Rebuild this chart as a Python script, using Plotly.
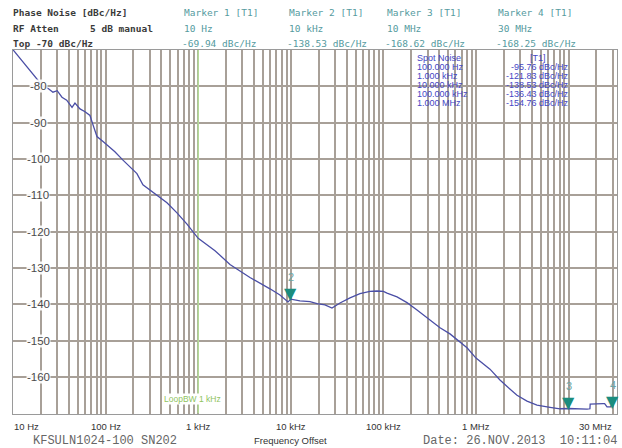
import numpy as np
import plotly.graph_objects as go

W, H = 622, 448

# ---- data ----
freq_hz = [10, 11.9, 15.3, 18, 21.1, 24, 27.0, 30, 33.8, 38, 43.4, 46.7, 52.9, 60, 67.8,
           73.1, 80.7, 93.8, 100, 126, 154, 183, 218, 253, 302, 387, 460, 590, 757, 1000,
           1518, 2203, 3622, 5956, 7636, 9330, 10000, 12560, 16110, 19180, 23390, 27850,
           33980, 43570, 55870, 71630, 85270, 100000, 109400, 140300, 179900, 230700,
           295800, 408500, 523800, 671600, 799600, 1e6, 1.415e6, 1.815e6, 2.327e6,
           2.772e6, 3.555e6, 4.558e6, 6.299e6, 8.077e6, 1e7, 1.328e7, 1.581e7, 1.70e7,
           1.71e7, 2.354e7, 2.45e7, 2.60e7, 2.85e7, 2.92e7, 3e7]
noise_dbc = [-69.94, -72.3, -75.5, -78.0, -80.0, -80.6, -81.6, -81.2, -83.0, -83.8, -85.8,
             -84.6, -86.2, -87.0, -88.0, -90.6, -93.8, -95.2, -95.76, -98.0, -100.3, -102.2,
             -104.0, -107.1, -108.5, -110.4, -112.0, -114.8, -117.9, -121.83, -125.2, -129.0,
             -132.6, -135.7, -137.4, -139.3, -138.53, -139.0, -139.2, -139.8, -140.1, -141.0,
             -139.6, -138.2, -137.0, -136.4, -136.3, -136.43, -136.9, -137.9, -139.5, -141.5,
             -143.6, -146.4, -148.1, -150.4, -151.9, -154.76, -157.8, -160.8, -163.3, -165.0,
             -166.6, -167.7, -168.3, -168.7, -168.62, -168.8, -168.8, -168.7, -167.4, -167.3,
             -167.3, -168.2, -168.2, -167.4, -167.4]

marker_names = ["Marker 1 [T1]", "Marker 2 [T1]", "Marker 3 [T1]", "Marker 4 [T1]"]
marker_freq = [10, 1e4, 1e7, 3e7]
marker_freq_txt = ["10 Hz", "10 kHz", "10 MHz", "30 MHz"]
marker_val = [-69.94, -138.53, -168.62, -168.25]

spot_freq_txt = ["100.000 Hz", "1.000 kHz", "10.000 kHz", "100.000 kHz", "1.000 MHz"]
spot_val = [-95.76, -121.83, -138.53, -136.43, -154.76]

y_ticks = [-80, -90, -100, -110, -120, -130, -140, -150, -160]
x_tick_vals = [10, 100, 1e3, 1e4, 1e5, 1e6, 3e7]
x_tick_txt = ["10 Hz", "100 Hz", "1 kHz", "10 kHz", "100 kHz", "1 MHz", "30 MHz"]
loop_bw_hz = 1000

# grid positions (1..9 per decade)
grid_x = [m * 10 ** d for d in range(1, 8) for m in range(1, 10) if m * 10 ** d <= 3e7]

# ---- geometry ----
L, R, T, B = 13, 617, 50, 413.5
XMIN = 1.0
XMAX = 1.0 + (R - L) / 92.6

def px(x):
    return x / W

def py(y):
    return 1 - y / H

fig = go.Figure()

fig.add_trace(go.Scatter(x=[loop_bw_hz, loop_bw_hz], y=[-170, -70], mode="lines",
                         line=dict(color="#b4da98", width=1.6), hoverinfo="skip",
                         showlegend=False))
fig.add_trace(go.Scatter(x=freq_hz, y=noise_dbc, mode="lines",
                         line=dict(color="#4b4fa6", width=1.3), showlegend=False))

grid_col = "#a8a098"
fig.update_xaxes(type="log", range=[XMIN, XMAX], domain=[px(L), px(R)],
                 tickvals=grid_x, showticklabels=False, ticks="",
                 showgrid=True, gridcolor=grid_col, gridwidth=1.5,
                 showline=True, linecolor="#9a9a9a", linewidth=1, mirror=True,
                 zeroline=False)
fig.update_yaxes(range=[-170, -70], domain=[py(B), py(T)], dtick=10, tick0=-170,
                 showticklabels=False, ticks="",
                 showgrid=True, gridcolor=grid_col, gridwidth=1.5,
                 showline=True, linecolor="#9a9a9a", linewidth=1, mirror=True,
                 zeroline=False)

ann = []

def text(t, x, y, size, color, family="DejaVu Sans Mono", xanchor="left",
         yanchor="middle", bg=None, xref="paper", yref="paper", xshift=0, yshift=0):
    d = dict(text=t, x=x, y=y, xref=xref, yref=yref, showarrow=False,
             xanchor=xanchor, yanchor=yanchor, xshift=xshift, yshift=yshift,
             font=dict(size=size, color=color, family=family), borderpad=0)
    if bg:
        d["bgcolor"] = bg
    ann.append(d)

# header
hdr = "#3a3a3a"
text("<b>Phase Noise [dBc/Hz]</b>", px(12), py(13), 9.5, hdr)
text("<b>RF Atten</b>", px(12), py(28), 9.5, hdr)
text("<b>5 dB manual</b>", px(89), py(28), 9.5, hdr)
text("<b>Top -70 dBc/Hz</b>", px(12), py(43), 9.5, hdr)

teal = "#559ba0"
col_x = [183, 288, 386, 497]
for i in range(4):
    text(marker_names[i], px(col_x[i]), py(13), 9.5, teal)
    text(marker_freq_txt[i], px(col_x[i]), py(28), 9.5, teal)
    text(f"{marker_val[i]:.2f} dBc/Hz", px(col_x[i] - 2), py(43), 9.5, teal)

# spot noise table
blue = "#4446c4"
rows_y = [58, 67, 76, 85, 94, 103]
text("Spot Noise", px(416), py(rows_y[0]), 9, blue, family="Liberation Sans")
text("[T1]", px(538), py(rows_y[0]), 9, blue, family="Liberation Sans", xanchor="center")
for i in range(5):
    text(spot_freq_txt[i], px(416), py(rows_y[i + 1]), 9, blue, family="Liberation Sans")
    text(f"{spot_val[i]:.2f} dBc/Hz", px(570), py(rows_y[i + 1]), 9, blue,
         family="Liberation Sans", xanchor="right")

# y labels inside the plot
for v in y_ticks:
    text(str(v), px(38), v, 11.5, "#4a4a4a", family="Liberation Sans",
         xanchor="center", yref="y", bg="rgba(255,255,255,0.9)")

# x labels
for v, t in zip(x_tick_vals, x_tick_txt):
    xa = "center"
    if v == x_tick_vals[0]:
        xa = "left"
    elif v == x_tick_vals[-1]:
        xa = "right"
    text(t, np.log10(v), py(426.5), 9.5, "#333333", family="Liberation Sans",
         xanchor=xa, xref="x")
text("Frequency Offset", 4, py(440.5), 9.5, "#333333", family="Liberation Sans",
     xanchor="center", xref="x")
text("KFSULN1024-100 SN202", px(32), py(441), 12, "#666666", family="Liberation Mono")
text("Date: 26.NOV.2013  10:11:04", px(618), py(441), 12, "#666666",
     family="Liberation Mono", xanchor="right")

# loop bandwidth label
text("LoopBW 1 kHz", px(192), py(399), 8.5, "#8fc35e", family="Liberation Sans",
     xanchor="center", bg="white")

# marker triangles (2..4)
for i in range(1, 4):
    text("▼", np.log10(marker_freq[i]), marker_val[i], 16, "#1b8c7e", family="DejaVu Sans",
         xanchor="center", yanchor="bottom", xref="x", yref="y", yshift=-5)
    text(str(i + 1), np.log10(marker_freq[i]), marker_val[i], 11, "#6aa6a6",
         family="Liberation Sans", xanchor="center", yanchor="bottom", xref="x", yref="y",
         yshift=15)

fig.update_layout(width=W, height=H, margin=dict(l=0, r=0, t=0, b=0),
                  paper_bgcolor="white", plot_bgcolor="white", annotations=ann,
                  showlegend=False)

fig.write_html("out.html")
